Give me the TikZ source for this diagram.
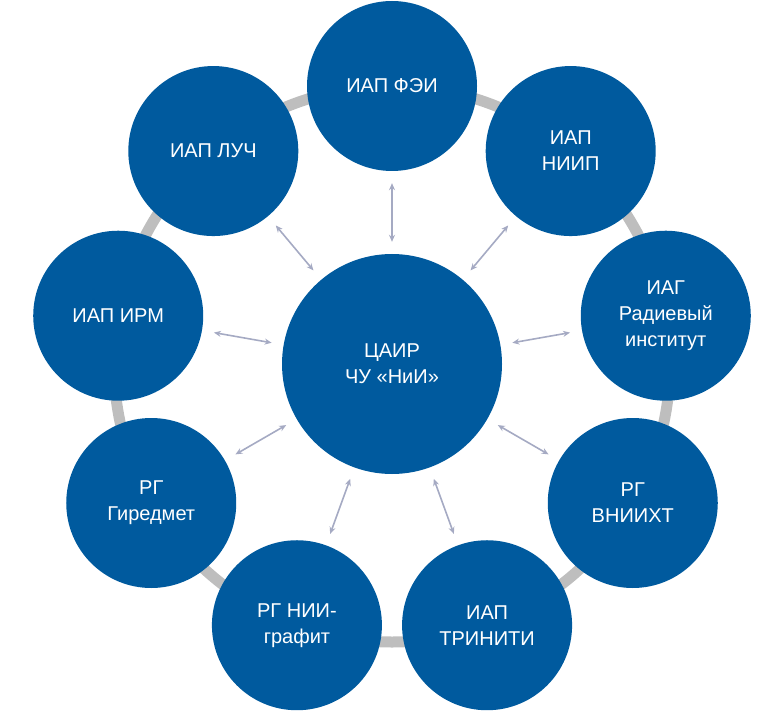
\documentclass[tikz,border=0pt]{standalone}
\usepackage{fontspec}
\setmainfont{Liberation Sans}
\usetikzlibrary{arrows.meta,calc}
\definecolor{orgblue}{RGB}{0,90,158}
\definecolor{ringgray}{RGB}{190,190,190}
\definecolor{linkgray}{RGB}{165,170,195}
\tikzset{
  hub/.style={circle, fill=orgblue, text=white, minimum size=220pt, inner sep=0pt, align=center, font=\fontsize{20}{26}\selectfont},
  member/.style={circle, fill=orgblue, text=white, minimum size=170pt, inner sep=0pt, align=center, font=\fontsize{20}{26}\selectfont},
  link/.style={{Stealth[length=7pt,width=6pt]}-{Stealth[length=7pt,width=6pt]}, linkgray, line width=1.6pt, shorten <=12pt, shorten >=12pt}
}
\begin{document}
\begin{tikzpicture}[x=1pt,y=1pt]
\useasboundingbox (0,0) rectangle (783,721);
% ring behind the members
\draw[ringgray, line width=11pt] (392,357) circle (278);
\node[hub] (c) at (392,357) {ЦАИР\\ЧУ «НиИ»};
\foreach \i/\a/\t in {1/90/ИАП ФЭИ, 2/50/ИАП\\НИИП, 3/10/ИАГ\\Радиевый\\институт,
    4/-30/РГ\\ВНИИХТ, 5/-70/ИАП\\ТРИНИТИ, 6/-110/РГ НИИ-\\графит,
    7/-150/РГ\\Гиредмет, 8/170/ИАП ИРМ, 9/130/ИАП ЛУЧ}{
  \node[member] (m\i) at ($(392,357)+(\a:278)$) {\t};
  \draw[link] (c) -- (m\i);
}
\end{tikzpicture}
\end{document}
